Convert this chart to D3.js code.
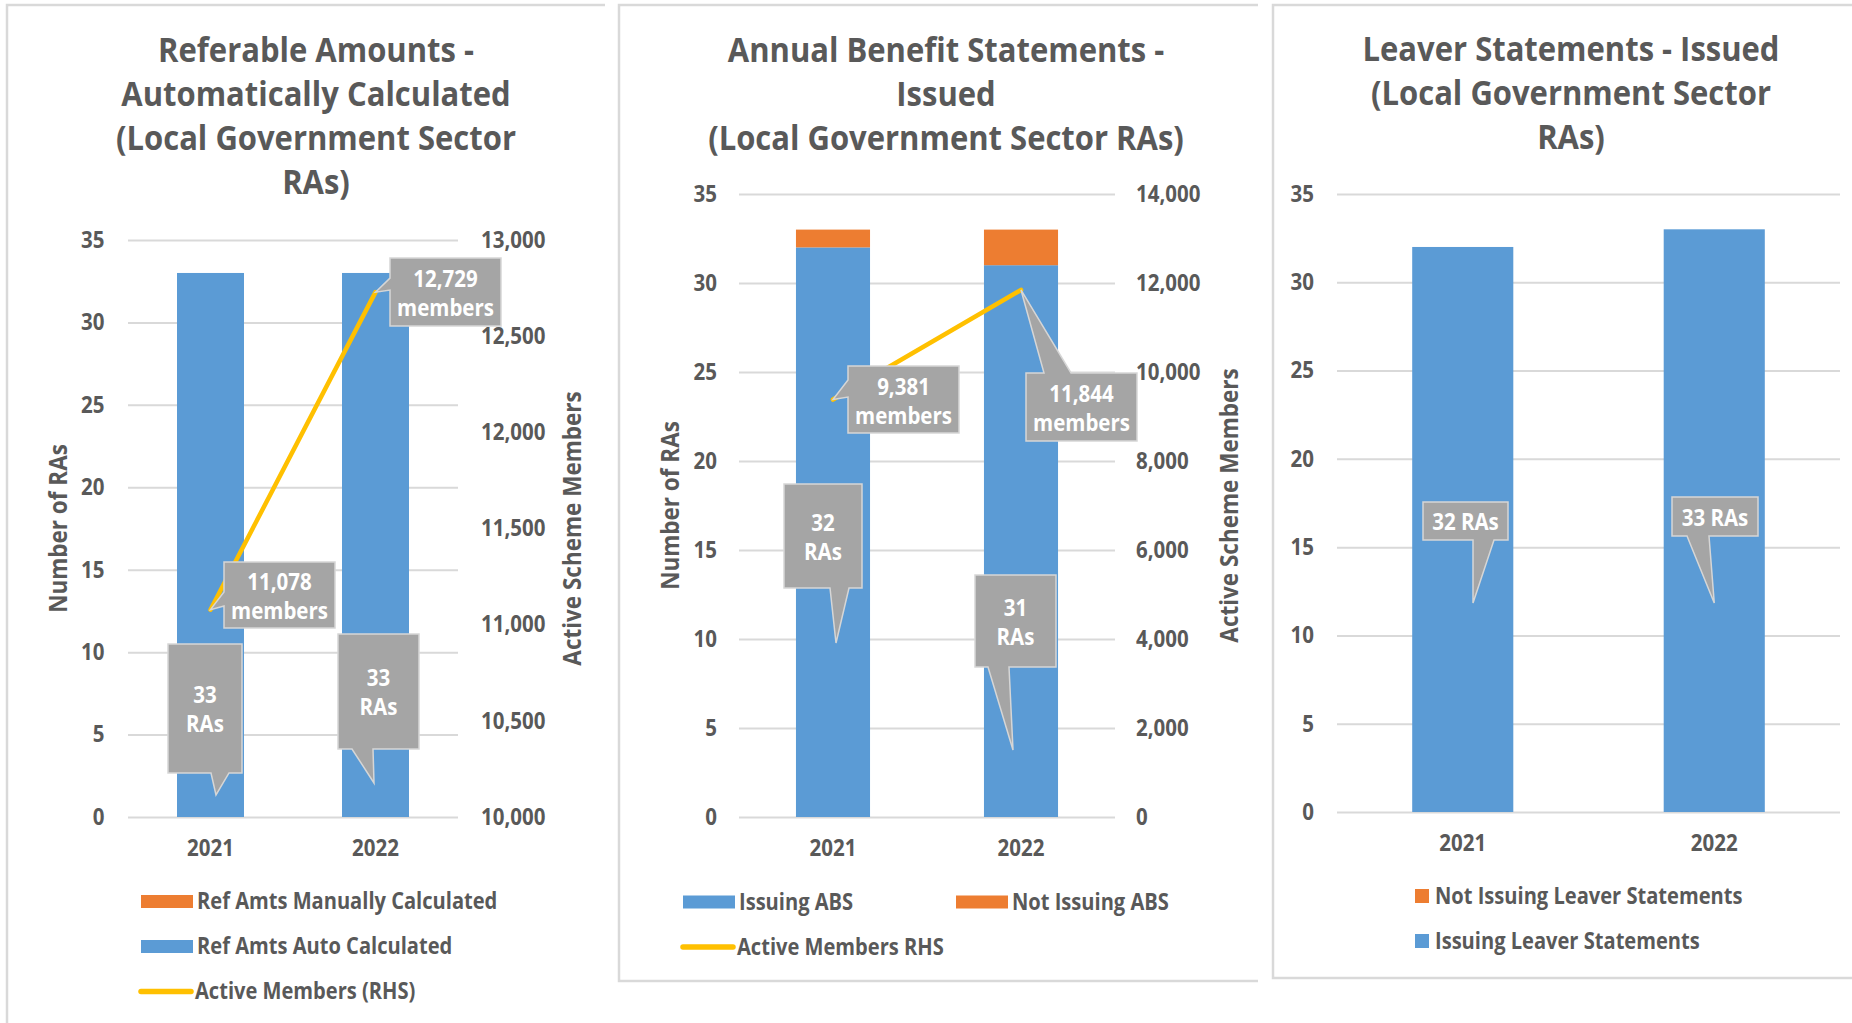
<!DOCTYPE html>
<html>
<head>
<meta charset="utf-8">
<script src="https://cdn.jsdelivr.net/npm/d3@7"></script>
<style>
  html, body { margin: 0; padding: 0; background: #fff; }
  svg { display: block; }
  text { font-family: 'Open Sans', sans-serif; font-weight: 700; fill: #595959; }
</style>
</head>
<body>
<svg id="chart" width="1852" height="1023"></svg>
<script>
// ---- data ----
const years = ["2021", "2022"];

// Referable amounts (local government sector RAs)
const refAutoRAs = [33, 33];
const refManualRAs = [0, 0];
const refActiveMembers = [11078, 12729];

// Annual benefit statements
const absIssuingRAs = [32, 31];
const absNotIssuingRAs = [1, 2];
const absActiveMembers = [9381, 11844];

// Leaver statements
const leaverIssuingRAs = [32, 33];
const leaverNotIssuingRAs = [0, 0];

// axis ticks
const raTicks = [0, 5, 10, 15, 20, 25, 30, 35];
const refMemberTicks = [10000, 10500, 11000, 11500, 12000, 12500, 13000];
const absMemberTicks = [0, 2000, 4000, 6000, 8000, 10000, 12000, 14000];

// titles and legend labels
const refTitle = ["Referable Amounts -", "Automatically Calculated", "(Local Government Sector", "RAs)"];
const absTitle = ["Annual Benefit Statements -", "Issued", "(Local Government Sector RAs)"];
const leaverTitle = ["Leaver Statements - Issued", "(Local Government Sector", "RAs)"];
const refLegend = ["Ref Amts Manually Calculated", "Ref Amts Auto Calculated", "Active Members (RHS)"];
const absLegend = ["Issuing ABS", "Not Issuing ABS", "Active Members RHS"];
const leaverLegend = ["Not Issuing Leaver Statements", "Issuing Leaver Statements"];
const leftAxisTitle = "Number of RAs";
const rightAxisTitle = "Active Scheme Members";

// ---- styling ----
const TXT = "#595959", GRID = "#d9d9d9", BLUE = "#5b9bd5", ORANGE = "#ed7d31",
      GOLD = "#ffc000", CALL = "#a5a5a5", CALL_EDGE = "#d6d6d6", FRAME = "#d9d9d9";
// glyphs are drawn a little condensed (narrow humanist face)
const SX = 0.9;
const FS = 20.5 / SX;          // ticks, legend, callouts
const FS_LEG = 20.1 / SX;
const FS_AXT = 22.5 / SX;      // axis titles
const FS_TTL = 31 / SX;        // chart titles

const svg = d3.select("#chart");
const fmt = d3.format(",");

// panel frames
[
  "M7,1030 V5 H605",
  "M1258,5 H619 V981 H1258",
  "M1852,5 H1273 V978 H1852"
].forEach(d => svg.append("path").attr("d", d).attr("fill", "none")
  .attr("stroke", FRAME).attr("stroke-width", 2.5));

// place a text at (x, y) with condensed glyphs
function label(g, x, y, str, size, anchor, fill, dy) {
  const t = g.append("text")
    .attr("transform", `translate(${x},${y}) scale(${SX},1)`)
    .attr("text-anchor", anchor || "start")
    .style("font-size", size + "px").text(str);
  if (fill) t.style("fill", fill);
  if (dy) t.attr("dy", dy);
  return t;
}

// restyle axis tick text so it uses the condensed glyphs too
function styleAxisText(g) {
  g.attr("font-family", null).attr("font-size", null);
  g.selectAll("text").each(function () {
    const t = d3.select(this);
    const x = +t.attr("x") || 0, y = +t.attr("y") || 0;
    t.attr("x", null).attr("y", null)
     .attr("transform", `translate(${x},${y}) scale(${SX},1)`)
     .style("font-size", FS + "px").attr("fill", TXT);
  });
}

function title(cx, y0, lines) {
  const g = svg.append("g");
  lines.forEach((t, i) => label(g, cx, y0 + i * 44, t, FS_TTL, "middle"));
}

function gridAxis(x, y, pad) {
  const [x0, x1] = x.range();
  const g = svg.append("g").attr("transform", `translate(${x0},0)`)
    .call(d3.axisLeft(y).tickValues(raTicks).tickSize(-(x1 - x0)).tickPadding(pad));
  g.select(".domain").remove();
  g.selectAll(".tick line").attr("stroke", GRID).attr("stroke-width", 2);
  styleAxisText(g);
}

function rightAxis(x, y, ticks, pad) {
  const g = svg.append("g").attr("transform", `translate(${x.range()[1]},0)`)
    .call(d3.axisRight(y).tickValues(ticks).tickSize(0).tickPadding(pad).tickFormat(fmt));
  g.select(".domain").remove();
  styleAxisText(g);
}

function bottomAxis(x, y0) {
  const g = svg.append("g").attr("transform", `translate(0,${y0})`)
    .call(d3.axisBottom(x).tickSize(0).tickPadding(23));
  g.select(".domain").remove();
  styleAxisText(g);
}

function axisTitle(cx, cy, t) {
  svg.append("text").attr("transform", `translate(${cx},${cy}) rotate(-90) scale(${SX},1)`)
    .attr("text-anchor", "middle").attr("dy", "0.35em")
    .style("font-size", FS_AXT + "px").text(t);
}

function stackedBars(x, y, rows, keys, colors) {
  const series = d3.stack().keys(keys)(rows);
  const g = svg.append("g");
  series.forEach((s, k) => {
    g.selectAll(null).data(s.filter(d => d[1] > d[0])).join("rect")
      .attr("x", d => x(d.data.year)).attr("width", x.bandwidth())
      .attr("y", d => y(d[1])).attr("height", d => y(d[0]) - y(d[1]))
      .attr("fill", colors[k]);
  });
}

function memberLine(x, y, values) {
  const pts = years.map((yr, i) => [x(yr) + x.bandwidth() / 2, y(values[i])]);
  svg.append("path").attr("d", d3.line()(pts)).attr("fill", "none")
    .attr("stroke", GOLD).attr("stroke-width", 4.5).attr("stroke-linecap", "round");
  return pts;
}

// grey callout box with a pointer; offsets are relative to the anchor point
function callout(ax, ay, s, lines) {
  const bx = ax + s.dx, by = ay + s.dy, w = s.w, h = s.h;
  const tx = ax + (s.tx || 0), ty = ay + (s.ty || 0);
  const [a, b] = s.base;
  let p;
  if (s.side === "left")
    p = `M${bx},${by} H${bx + w} V${by + h} H${bx} V${by + b} L${tx},${ty} L${bx},${by + a} Z`;
  else if (s.side === "top")
    p = `M${bx},${by} H${bx + a} L${tx},${ty} L${bx + b},${by} H${bx + w} V${by + h} H${bx} Z`;
  else
    p = `M${bx},${by} H${bx + w} V${by + h} H${bx + b} L${tx},${ty} L${bx + a},${by + h} H${bx} Z`;
  const g = svg.append("g");
  g.append("path").attr("d", p).attr("fill", CALL)
    .attr("stroke", CALL_EDGE).attr("stroke-width", 1.5).attr("stroke-linejoin", "miter");
  const cy = by + h / 2 + 1.5, n = lines.length;
  lines.forEach((t, i) =>
    label(g, bx + w / 2, cy + (i - (n - 1) / 2) * 29, t, FS, "middle", "#fff", "0.35em"));
}

function legendItem(x, y, kind, color, text) {
  if (kind === "bar")
    svg.append("rect").attr("x", x).attr("y", y - 6.5).attr("width", 52).attr("height", 13).attr("fill", color);
  else if (kind === "square")
    svg.append("rect").attr("x", x).attr("y", y - 7).attr("width", 14).attr("height", 14).attr("fill", color);
  else
    svg.append("line").attr("x1", x + 2).attr("x2", x + 52).attr("y1", y).attr("y2", y)
      .attr("stroke", color).attr("stroke-width", 5.5).attr("stroke-linecap", "round");
  const off = kind === "square" ? 20 : 56;
  label(svg, x + off, y, text, FS_LEG, "start", null, "0.35em");
}

// ================= Panel 1: referable amounts =================
{
  const x = d3.scaleBand().domain(years).range([128, 458]).paddingInner(0.594).paddingOuter(0.297);
  const yL = d3.scaleLinear().domain([0, 35]).range([817, 240]);
  const yR = d3.scaleLinear().domain([10000, 13000]).range([817, 240]);
  const rows = years.map((yr, i) => ({ year: yr, auto: refAutoRAs[i], manual: refManualRAs[i] }));

  title(316, 62, refTitle);
  gridAxis(x, yL, 23.5);
  rightAxis(x, yR, refMemberTicks, 23);
  bottomAxis(x, 817);
  axisTitle(58, 528.5, leftAxisTitle);
  axisTitle(572, 528.5, rightAxisTitle);
  stackedBars(x, yL, rows, ["auto", "manual"], [BLUE, ORANGE]);
  const pts = memberLine(x, yR, refActiveMembers);

  const memberCallouts = [
    { dx: 13.5, dy: -47.7, w: 111, h: 66, side: "left", base: [30, 44] },
    { dx: 14.5, dy: -34, w: 111, h: 68, side: "left", base: [20, 32] }
  ];
  const raCallouts = [
    { dx: -42.5, dy: 371, w: 74, h: 129, tx: 5.5, ty: 522, side: "bottom", base: [43, 61] },
    { dx: -37.5, dy: 361, w: 81, h: 115, tx: -1.5, ty: 510, side: "bottom", base: [14, 35] }
  ];
  years.forEach((yr, i) => {
    const cx = x(yr) + x.bandwidth() / 2;
    callout(cx, yL(refAutoRAs[i]), raCallouts[i], [String(refAutoRAs[i]), "RAs"]);
    callout(pts[i][0], pts[i][1], memberCallouts[i], [fmt(refActiveMembers[i]), "members"]);
  });

  legendItem(141, 901.5, "bar", ORANGE, refLegend[0]);
  legendItem(141, 946.5, "bar", BLUE, refLegend[1]);
  legendItem(139, 991.5, "line", GOLD, refLegend[2]);
}

// ================= Panel 2: annual benefit statements =================
{
  const x = d3.scaleBand().domain(years).range([739, 1115]).paddingInner(0.606).paddingOuter(0.303);
  const yL = d3.scaleLinear().domain([0, 35]).range([817, 194]);
  const yR = d3.scaleLinear().domain([0, 14000]).range([817, 194]);
  const rows = years.map((yr, i) => ({ year: yr, issuing: absIssuingRAs[i], notIssuing: absNotIssuingRAs[i] }));

  title(946, 62, absTitle);
  gridAxis(x, yL, 22);
  rightAxis(x, yR, absMemberTicks, 21);
  bottomAxis(x, 817);
  axisTitle(670, 505.5, leftAxisTitle);
  axisTitle(1229, 505.5, rightAxisTitle);
  stackedBars(x, yL, rows, ["issuing", "notIssuing"], [BLUE, ORANGE]);
  const pts = memberLine(x, yR, absActiveMembers);

  const memberCallouts = [
    { dx: 15, dy: -33.5, w: 111, h: 67, side: "left", base: [14, 31] },
    { dx: 5, dy: 83, w: 111, h: 68, side: "top", base: [18, 45] }
  ];
  const raCallouts = [
    { dx: -49, dy: 236.6, w: 78, h: 104, tx: 3, ty: 395.6, side: "bottom", base: [46, 65] },
    { dx: -46, dy: 309.8, w: 81, h: 92, tx: -8, ty: 484.8, side: "bottom", base: [13, 34] }
  ];
  years.forEach((yr, i) => {
    const cx = x(yr) + x.bandwidth() / 2;
    callout(cx, yL(absIssuingRAs[i]), raCallouts[i], [String(absIssuingRAs[i]), "RAs"]);
    callout(pts[i][0], pts[i][1], memberCallouts[i], [fmt(absActiveMembers[i]), "members"]);
  });

  legendItem(683, 902, "bar", BLUE, absLegend[0]);
  legendItem(956, 902, "bar", ORANGE, absLegend[1]);
  legendItem(681, 947, "line", GOLD, absLegend[2]);
}

// ================= Panel 3: leaver statements =================
{
  const x = d3.scaleBand().domain(years).range([1337, 1840]).paddingInner(0.598).paddingOuter(0.299);
  const y = d3.scaleLinear().domain([0, 35]).range([812, 194]);
  const rows = years.map((yr, i) => ({ year: yr, issuing: leaverIssuingRAs[i], notIssuing: leaverNotIssuingRAs[i] }));

  title(1571, 61, leaverTitle);
  gridAxis(x, y, 23);
  bottomAxis(x, 812);
  stackedBars(x, y, rows, ["issuing", "notIssuing"], [BLUE, ORANGE]);

  const raCallouts = [
    { dx: -39.75, dy: 255, w: 85, h: 38, tx: 10.25, ty: 356, side: "bottom", base: [50, 71] },
    { dx: -42.25, dy: 267.7, w: 86, h: 39, tx: 0, ty: 373.7, side: "bottom", base: [15, 37] }
  ];
  years.forEach((yr, i) => {
    const cx = x(yr) + x.bandwidth() / 2;
    callout(cx, y(leaverIssuingRAs[i]), raCallouts[i], [leaverIssuingRAs[i] + " RAs"]);
  });

  legendItem(1415, 896, "square", ORANGE, leaverLegend[0]);
  legendItem(1415, 941, "square", BLUE, leaverLegend[1]);
}
</script>
</body>
</html>
